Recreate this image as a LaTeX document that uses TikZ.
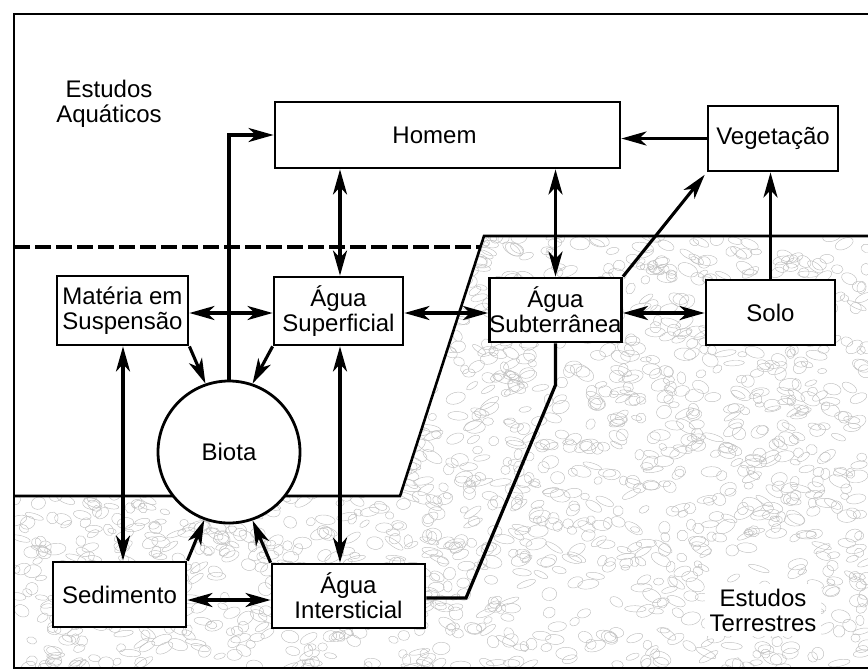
\documentclass[tikz,border=0pt]{standalone}
\usepackage{fontspec}
\setmainfont{Liberation Sans}
\usetikzlibrary{arrows.meta}
\tikzset{
  box/.style={draw, line width=2.8pt, fill=white, rectangle, inner sep=0pt, align=center, font=\fontsize{24}{25}\selectfont},
  lbl/.style={inner sep=5pt, align=center, font=\fontsize{24}{25}\selectfont},
  tip/.tip={Stealth[length=25pt,width=14pt,inset=7pt]},
  arr/.style={line width=3.1pt, -tip},
  darr/.style={line width=3.1pt, tip-tip},
  region/.style={line width=2.6pt},
  tex/.style={draw=gray!50, line width=0.45pt},
}
\begin{document}
\begin{tikzpicture}[x=1pt,y=-1pt]
\useasboundingbox (0,0) rectangle (868,670);
% texture of sediment and terrestrial regions
\begin{scope}
\clip (14,496) -- (400,496) -- (484,236) -- (868,236) -- (868,668) -- (14,668) -- cycle;
\pgfmathsetseed{7}
\foreach \i in {1,...,2000}{
  \pgfmathsetmacro\xx{14+854*rnd}
  \pgfmathsetmacro\yy{236+432*rnd}
  \pgfmathsetmacro\rx{4+7*rnd}
  \pgfmathsetmacro\ry{2.5+4*rnd}
  \pgfmathsetmacro\ang{-35+70*rnd}
  \draw[tex, rotate around={\ang:(\xx,\yy)}] (\xx,\yy) ellipse [x radius=\rx pt, y radius=\ry pt];
}
\end{scope}
% frame
\draw[line width=2.4pt] (868,14) -- (14,14) -- (14,668) -- (868,668);
% water surface (dashed) and region boundaries
\draw[line width=4pt, dash pattern=on 16pt off 5pt] (14,247) -- (481,247);
\draw[region] (14,496) -- (400,496) -- (484,236) -- (868,236);
% nodes
\node[box, minimum width=345pt, minimum height=66pt] (homem) at (447.5,135) {\hspace*{-26pt}Homem};
\node[box, minimum width=130pt, minimum height=65pt] (veg) at (773,138.5) {Vegetação};
\node[box, minimum width=131pt, minimum height=69pt] (mat) at (122.5,310.5) {Matéria em\\Suspensão};
\node[box, minimum width=129pt, minimum height=68pt] (sup) at (338.5,311) {Água\\Superficial};
\node[box, minimum width=131pt, minimum height=64pt] (sub) at (555.5,310) {Água\\Subterrânea};
\node[box, minimum width=129pt, minimum height=65pt] (solo) at (770.5,312.5) {Solo};
\node[box, circle, minimum size=142pt] (biota) at (229,452) {Biota};
\node[box, minimum width=133pt, minimum height=65pt] (sed) at (119.5,594.5) {Sedimento};
\node[box, minimum width=153pt, minimum height=64pt] (inter) at (348.5,596) {Água\\Intersticial};
% boundary from Água Subterrânea to Água Intersticial
\coordinate (k1) at (556,385);
\coordinate (k2) at (466,598);
\draw[line width=3.2pt] (sub.south) -- (sub.south |- k1) -- (k2) -- (k2 -| inter.east);
% helper coordinates
\coordinate (c340) at (340,0);
\coordinate (c123) at (123,0);
\coordinate (r313) at (0,313);
\coordinate (r600) at (0,600);
% connectors
\draw[arr] (biota.north) |- (homem.west);
\draw[darr] (c340 |- homem.south) -- (c340 |- sup.north);
\draw[darr] (sub.north |- homem.south) -- (sub.north);
\draw[arr] (veg.west) -- (veg.west -| homem.east);
\draw[arr, shorten >=3pt] (sub.north east) -- (veg.south west);
\draw[arr] (solo.north) -- (solo.north |- veg.south);
\draw[darr] (sub.east |- r313) -- (solo.west |- r313);
\draw[darr] (sup.east |- r313) -- (sub.west |- r313);
\draw[darr] (mat.east |- r313) -- (sup.west |- r313);
\draw[arr] (mat.south east) -- (biota.109);
\draw[arr] (sup.south west) -- (biota.71);
\draw[darr] (c123 |- mat.south) -- (c123 |- sed.north);
\draw[darr] (c340 |- sup.south) -- (c340 |- inter.north);
\draw[arr] (sed.north east) -- (biota.-110);
\draw[arr] (inter.north west) -- (biota.-71);
\draw[darr] (sed.east |- r600) -- (inter.west |- r600);
% region labels
\node[lbl] (aq) at (109,104) {Estudos\\Aquáticos};
\node[lbl, fill=white] (ter) at (763,610) {Estudos\\Terrestres};
\end{tikzpicture}
\end{document}
